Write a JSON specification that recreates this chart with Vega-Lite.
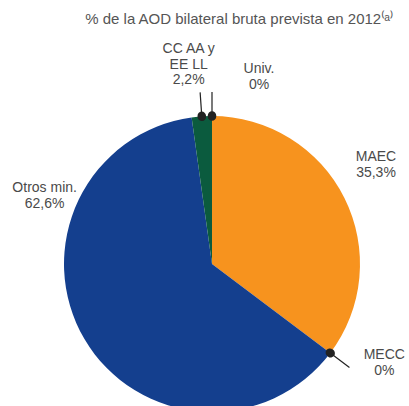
{
  "$schema": "https://vega.github.io/schema/vega-lite/v6.json",
  "autosize": "none",
  "padding": {"left": 0, "top": 40, "right": 0, "bottom": 0},
  "width": 424,
  "height": 448,
  "background": "white",
  "config": {"view": {"stroke": null}, "font": "Liberation Sans"},
  "title": {
    "text": "% de la AOD bilateral bruta prevista en 2012⁽ᵃ⁾",
    "frame": "group",
    "anchor": "middle",
    "dx": 27,
    "offset": 1,
    "baseline": "alphabetic",
    "fontSize": 15,
    "fontWeight": "normal",
    "color": "#555555",
    "font": "Liberation Sans"
  },
  "data": {
    "values": [
      {"cat": "MAEC", "value": 35.3, "ord": 1, "label": "MAEC\n35,3%"},
      {"cat": "MECC", "value": 0, "ord": 2, "label": "MECC\n0%"},
      {"cat": "Otros min.", "value": 62.6, "ord": 3, "label": "Otros min.\n62,6%"},
      {"cat": "CC AA y EE LL", "value": 2.2, "ord": 4, "label": "CC AA y\nEE LL\n2,2%"},
      {"cat": "Univ.", "value": 0, "ord": 5, "label": "Univ.\n0%"}
    ]
  },
  "transform": [
    {"stack": "value", "groupby": [], "sort": [{"field": "ord", "order": "ascending"}], "as": ["v0", "v1"]}
  ],
  "layer": [
    {
      "mark": {"type": "arc", "radius": 148},
      "encoding": {
        "theta": {"field": "v0", "type": "quantitative", "stack": null, "scale": {"domain": [0, 100.1]}},
        "theta2": {"field": "v1"},
        "color": {
          "field": "cat", "type": "nominal", "legend": null,
          "scale": {
            "domain": ["MAEC", "MECC", "Otros min.", "CC AA y EE LL", "Univ."],
            "range": ["#F7931E", "#F7931E", "#143F8E", "#0B5B3E", "#0B5B3E"]
          }
        }
      }
    },
    {
      "transform": [{"filter": {"field": "cat", "oneOf": ["MECC", "CC AA y EE LL", "Univ."]}}],
      "mark": {"type": "arc", "radius": 172, "radius2": 148, "padAngle": 3, "fillOpacity": 0, "stroke": "#222222", "strokeWidth": 1.2},
      "encoding": {
        "theta": {"field": "v0", "type": "quantitative", "stack": null},
        "theta2": {"field": "v1"}
      }
    },
    {
      "transform": [{"filter": {"field": "cat", "oneOf": ["MECC", "CC AA y EE LL", "Univ."]}}],
      "mark": {"type": "arc", "radius": 148.5, "radius2": 147.5, "padAngle": 3, "fillOpacity": 0, "stroke": "#222222", "strokeWidth": 8.5, "strokeCap": "round", "strokeJoin": "round"},
      "encoding": {
        "theta": {"field": "v0", "type": "quantitative", "stack": null},
        "theta2": {"field": "v1"}
      }
    },
    {
      "transform": [{"filter": {"field": "cat", "equal": "MAEC"}}],
      "mark": {"type": "text", "radius": 148, "dx": 164, "dy": 41, "fontSize": 14, "lineBreak": "\n", "lineHeight": 16, "align": "center", "baseline": "middle", "color": "#4a4a4a"},
      "encoding": {"theta": {"field": "v0", "type": "quantitative", "stack": null}, "text": {"field": "label"}}
    },
    {
      "transform": [{"filter": {"field": "cat", "equal": "MECC"}}],
      "mark": {"type": "text", "radius": 148, "dx": 54, "dy": 2, "fontSize": 14, "lineBreak": "\n", "lineHeight": 16, "align": "center", "baseline": "middle", "color": "#4a4a4a"},
      "encoding": {"theta": {"field": "v0", "type": "quantitative", "stack": null}, "text": {"field": "label"}}
    },
    {
      "transform": [{"filter": {"field": "cat", "equal": "Otros min."}}],
      "mark": {"type": "text", "radius": 148, "dx": -147, "dy": 71, "fontSize": 14, "lineBreak": "\n", "lineHeight": 16, "align": "center", "baseline": "middle", "color": "#4a4a4a"},
      "encoding": {"theta": {"field": "v1", "type": "quantitative", "stack": null}, "text": {"field": "label"}}
    },
    {
      "transform": [{"filter": {"field": "cat", "equal": "CC AA y EE LL"}}],
      "mark": {"type": "text", "radius": 148, "dx": -3, "dy": -68, "fontSize": 14, "lineBreak": "\n", "lineHeight": 15.5, "align": "center", "baseline": "middle", "color": "#4a4a4a"},
      "encoding": {"theta": {"field": "v0", "type": "quantitative", "stack": null}, "text": {"field": "label"}}
    },
    {
      "transform": [{"filter": {"field": "cat", "equal": "Univ."}}],
      "mark": {"type": "text", "radius": 148, "dx": 47, "dy": -47, "fontSize": 14, "lineBreak": "\n", "lineHeight": 15.5, "align": "center", "baseline": "middle", "color": "#4a4a4a"},
      "encoding": {"theta": {"field": "v0", "type": "quantitative", "stack": null}, "text": {"field": "label"}}
    }
  ]
}
